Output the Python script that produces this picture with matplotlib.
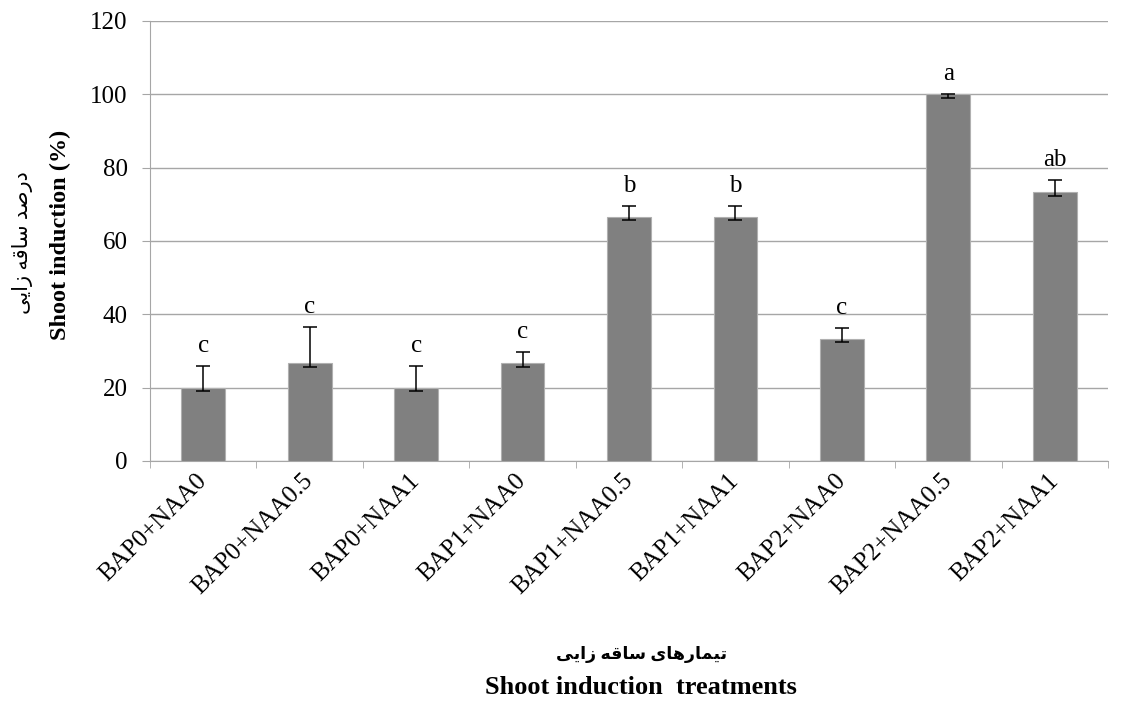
import numpy as np
import matplotlib
matplotlib.use('Agg')
from matplotlib import pyplot as plt

treatments = ['BAP0+NAA0', 'BAP0+NAA0.5', 'BAP0+NAA1', 'BAP1+NAA0', 'BAP1+NAA0.5',
              'BAP1+NAA1', 'BAP2+NAA0', 'BAP2+NAA0.5', 'BAP2+NAA1']
induction = [20, 26.67, 20, 26.67, 66.67, 66.67, 33.33, 100, 73.33]
err_low = [1.0, 1.0, 1.0, 1.0, 1.0, 1.0, 1.0, 1.0, 1.0]
err_high = [5.8, 10.0, 5.8, 3.0, 3.0, 3.0, 3.0, 0.2, 3.3]
letters = ['c', 'c', 'c', 'c', 'b', 'b', 'c', 'a', 'ab']

# Persian labels written in presentation forms (visual order), since matplotlib does no shaping
fa_ylabel = '\uFEF0\uFEF3\uFE8D\uFEAF \uFEEA\uFED7\uFE8E\uFEB3 \uFEAA\uFEBB\uFEAD\uFEA9'     # درصد ساقه زایی
fa_xlabel = '\uFEF0\uFEF3\uFE8D\uFEAF \uFEEA\uFED7\uFE8E\uFEB3 \uFEEF\uFE8E\uFEEB\uFEAD\uFE8E\uFEE4\uFEF4\uFE97'  # تیمارهای ساقه زایی

fam = ['Liberation Serif', 'DejaVu Sans']
plt.rcParams['font.family'] = fam

fig = plt.figure(figsize=(11.23, 7.04), dpi=100)
ax = fig.add_axes([0.1336, 0.3452, 0.853, 0.625])

x = np.arange(len(treatments))
ax.bar(x, induction, width=0.41, color='#808080', edgecolor='#b0b0b0', linewidth=0.8, zorder=3)
ax.errorbar(x, induction, yerr=[err_low, err_high], fmt='none', ecolor='black',
            elinewidth=1.1, capsize=5, capthick=1.1, zorder=4)
for xi, v, eh, t in zip(x, induction, err_high, letters):
    ax.text(xi, v + eh + 3.8, t, ha='center', va='baseline', fontsize=18)

ax.set_xlim(-0.5, len(treatments) - 0.5)
ax.set_ylim(0, 120)
ax.set_yticks(np.arange(0, 121, 20))
ax.yaxis.grid(True, color='#a6a6a6', linewidth=1.0, zorder=0)
ax.set_axisbelow(True)

ax.set_xticks(x)
ax.set_xticklabels(treatments, rotation=45, ha='right', va='center',
                   rotation_mode='anchor', fontsize=18)
ax.set_xticks(np.arange(-0.5, len(treatments)), minor=True)
ax.tick_params(axis='x', which='major', length=0, pad=12)
ax.tick_params(axis='x', which='minor', length=5, color='#a6a6a6')
ax.tick_params(axis='y', length=6, color='#a6a6a6', labelsize=18, pad=10)

for s in ['top', 'right']:
    ax.spines[s].set_visible(False)
for s in ['left', 'bottom']:
    ax.spines[s].set_color('#a6a6a6')

fig.text(0.02, 0.655, fa_ylabel, rotation=90, ha='center', va='center', fontsize=15,
         family=fam)
fig.text(0.054, 0.666, 'Shoot induction (%)', rotation=90, ha='center', va='center',
         fontsize=17.5, fontweight='bold', family=fam)
fig.text(0.571, 0.070, fa_xlabel, ha='center', va='center', fontsize=12.5,
         fontweight='bold', family=fam)
fig.text(0.571, 0.023, 'Shoot induction  treatments', ha='center', va='center',
         fontsize=19, fontweight='bold', family=fam)

plt.savefig('out.png', dpi=100)
